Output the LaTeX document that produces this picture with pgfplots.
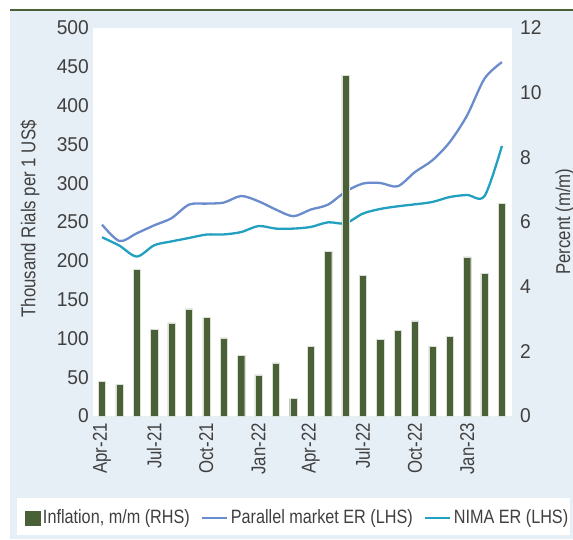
\documentclass[border=0pt]{standalone}
\usepackage{fontspec}
\setmainfont{Liberation Sans}[FakeStretch=0.84]
\newfontfamily\tickfont{Liberation Sans}[FakeStretch=0.96]
\usepackage{pgfplots}
\pgfplotsset{compat=1.18}
\definecolor{bargreen}{HTML}{4A6138}
\definecolor{parblue}{HTML}{6A8BCC}
\definecolor{nimateal}{HTML}{22A0C0}
\definecolor{bgblue}{HTML}{E7EFF6}
\definecolor{txt}{HTML}{404040}
\pgfplotsset{
  common/.style={
    at={(93pt,123pt)}, anchor=south west, scale only axis,
    width=419pt, height=388pt,
    xmin=-0.52, xmax=23.58,
    axis line style={draw=none}, major tick length=0pt,
    /pgf/number format/assume math mode=true,
    tick label style={text=txt},
    label style={text=txt, font=\fontsize{20}{24}\selectfont},
  }
}
\begin{document}
\fontsize{20}{24}\selectfont
\begin{tikzpicture}
\useasboundingbox (0pt,0pt) rectangle (573pt,539pt);
\fill[white] (0pt,0pt) rectangle (573pt,539pt);
\fill[bgblue] (10pt,0pt) rectangle (573pt,529pt);
\draw[bargreen, line width=2pt] (10pt,529pt) -- (573pt,529pt);
\fill[white] (17pt,4pt) rectangle (570pt,41pt);
\begin{axis}[common,
  ymin=0, ymax=500, ytick={0,50,...,500},
  xtick={0,3,...,21},
  xticklabels={Apr-21,Jul-21,Oct-21,Jan-22,Apr-22,Jul-22,Oct-22,Jan-23},
  xticklabel style={rotate=90, anchor=east, inner sep=0pt, font=\fontsize{20}{24}\selectfont},
  xticklabel shift=7pt,
  yticklabel style={anchor=east, inner sep=0pt, font=\tickfont\fontsize{20}{24}\selectfont},
  yticklabel shift=4pt,
  axis background/.style={fill=white},
  ylabel={Thousand Rials per 1 US\$},
  ylabel style={at={(axis description cs:-0.150,0.508)}, anchor=center, inner sep=0pt},
]
\addplot[parblue, line width=2.3pt, smooth] coordinates {
(0,246.6) (1,225.5) (2,235.5) (3,245.7) (4,255) (5,272.4) (6,273.7) (7,275)
(8,283.5) (9,276.7) (10,266) (11,257.5) (12,266) (13,272.4) (14,289) (15,299.5)
(16,300.3) (17,296) (18,314.4) (19,329.5) (20,353) (21,387.5) (22,434.8) (23,456)
};
\addplot[nimateal, line width=2.3pt, smooth] coordinates {
(0,230.3) (1,219.5) (2,205.5) (3,220) (4,225) (5,229.4) (6,233.8) (7,234)
(8,237) (9,244.8) (10,241.5) (11,241.5) (12,243.6) (13,249.6) (14,248.3) (15,260.8)
(16,266.8) (17,270.2) (18,272.8) (19,275.8) (20,282.2) (21,284.8) (22,283.5) (23,348)
};
\end{axis}
\begin{axis}[common,
  ymin=0, ymax=12, ytick={0,2,...,12},
  axis y line*=right, hide x axis,
  yticklabel style={anchor=west, inner sep=0pt, font=\tickfont\fontsize{20}{24}\selectfont},
  yticklabel shift=8pt,
  ylabel={Percent (m/m)},
  ylabel style={at={(axis description cs:1.1265,0.501)}, anchor=center, inner sep=0pt},
  legend columns=3,
  legend cell align=left,
  legend style={at={(axis description cs:-0.1623,-0.2629)}, anchor=west,
    draw=none, fill=none, inner sep=0pt, text=txt,
    font=\fontsize{19.3}{23}\selectfont,
    nodes={inner xsep=2.5pt, inner ysep=0pt},
    /tikz/every even column/.append style={column sep=9pt}},
]
\addplot[ybar, bar width=7.2pt, fill=bargreen, draw=white!80!bargreen, line width=0.3pt,
  legend image code/.code={\fill[bargreen] (0pt,-7pt) rectangle (15pt,7pt);}] coordinates {
(0,1.08) (1,0.97) (2,4.54) (3,2.68) (4,2.88) (5,3.31) (6,3.05) (7,2.42)
(8,1.87) (9,1.27) (10,1.64) (11,0.54) (12,2.16) (13,5.10) (14,10.54) (15,4.35)
(16,2.38) (17,2.64) (18,2.94) (19,2.16) (20,2.47) (21,4.92) (22,4.42) (23,6.58)
};
\addlegendentry{Inflation, m/m (RHS)}
\addlegendimage{legend image code/.code={\draw[parblue, line width=2pt] (0pt,0pt) -- (25pt,0pt);}}
\addlegendentry{Parallel market ER (LHS)}
\addlegendimage{legend image code/.code={\draw[nimateal, line width=2pt] (0pt,0pt) -- (25pt,0pt);}}
\addlegendentry{NIMA ER (LHS)}
\end{axis}
\end{tikzpicture}
\end{document}
